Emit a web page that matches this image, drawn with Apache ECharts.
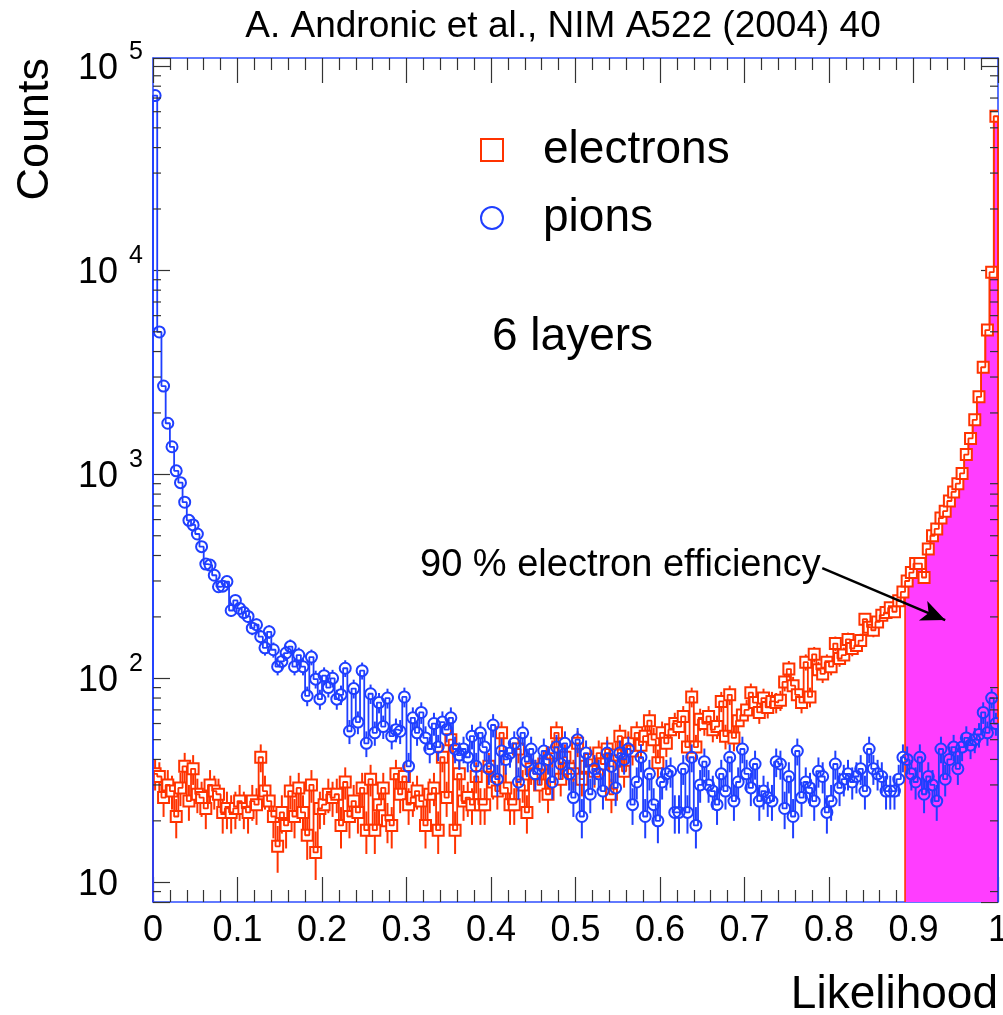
<!DOCTYPE html>
<html>
<head>
<meta charset="utf-8">
<script src="https://cdn.jsdelivr.net/npm/echarts@6/dist/echarts.min.js"></script>
<style>
html,body{margin:0;padding:0;background:#fff;}
#chart{width:1003px;height:1015px;}
</style>
</head>
<body>
<div id="chart"></div>
<script>
// ---------------- data ----------------
const nBins = 200;
const xLow = 0;
const xHigh = 1;
const fillFromBin = 178;   // 0.89 : 90 % electron efficiency cut

const electrons = [
  34,33,26,30,28,21,29,37,25,36, 27,26,23,30,28,27,22,23,22,23,
  25,23,22,25,24,41,28,25,21,15, 22,19,28,21,29,22,17,30,14,23,
  24,27,26,27,19,31,21,25,22,29, 18,32,18,24,29,20,19,34,27,33,
  24,26,28,25,19,27,29,18,41,26, 50,18,34,25,26,24,33,24,24,37,
  31,28,54,29,24,24,45,30,22,36, 34,30,38,27,43,54,32,41,36,34,
  48,32,37,40,35,43,38,45,27,42, 52,35,48,44,54,47,52,62,50,38.5,
  54,48,56,60,58,65,46,81,46,63, 60,65,56,58,77,52,83,51,62,66,
  70,85,76,68,80,72,77,76,78,96, 111,92,83,76,120,81,131,110,105,120,
  114,148,125,130,155,140,145,153,195,178, 172,189,204,210,222,212,240,265,300,330,
  365,365,312,430,500,540,610,660,740,820, 900,1010,1250,1500,1850,2400,3350,5100,9800,57000
];

const pions = [
  72000,4990,2710,1780,1365,1040,910,730,595,565, 510,442,363,359,320,281,283,298,215,241,
  220,210,201,176,183,160,141,169,138,114, 121,133,143,114,130,114,82,127,99,79,
  103,90,100,79,83,112,55,89,61,109, 48,84,54,76,58,80,52,56,55,81,
  37,64,54,68,51,45,60,46,61,56, 64,45,42,45,41,52,37,54,46,36,
  59,32,44,40,43,48,31,54,39,45, 34,36,44,40,31,46,38,48,34,26,
  50,21,43,27,36,34,28,43,37,29, 43,40,45,24,31,41,21,34,24,20,
  31,34,35,22,22,36,22,41,19,30, 39,30,28,24,34,28,41,25,31,45,
  34,29,38,25,28,26,25,39,38,23, 33,21,44,26,31,29,25,35,33,22,
  25,38,29,32,34,31,33,36,28,45, 36,34,33,28,28,28,32,41,40,34,
  31,41,27,33,30,25,45,32,40,46, 36,46,51,47,50,53,68,54,80,60
];

const xTickLabels = ['0','0.1','0.2','0.3','0.4','0.5','0.6','0.7','0.8','0.9','1'];
const yTickExponents = [1,2,3,4,5];
const yTickBase = '10';
const yMinorTicks = [9,20,30,40,50,60,70,80,90,200,300,400,500,600,700,800,900,
  2000,3000,4000,5000,6000,7000,8000,9000,20000,30000,40000,50000,60000,70000,80000,90000];

const yMin = 8;
const yMax = 110000;

// ---------------- style ----------------
const RED = '#ff3300';
const BLUE = '#1f3fff';
const MAGENTA = '#ff3dff';
const FRAME = '#2f4fff';
const TICK = '#333333';
const FONT = '"Liberation Sans", Arial, Helvetica, sans-serif';

const binW = (xHigh - xLow) / nBins;

function stepPoints(vals, from, to, base) {
  const pts = [[xLow + from * binW, base]];
  for (let i = from; i < to; i++) {
    pts.push([xLow + i * binW, vals[i]]);
    pts.push([xLow + (i + 1) * binW, vals[i]]);
  }
  pts.push([xLow + to * binW, base]);
  return pts;
}
function markerData(vals) {
  return vals.map((v, i) => [xLow + (i + 0.5) * binW, v, Math.sqrt(v)]);
}

function markerRenderer(kind, color) {
  return function (params, api) {
    const x = api.value(0), v = api.value(1), e = api.value(2);
    const c = api.coord([x, v]);
    const t = api.coord([x, v + e]);
    const b = api.coord([x, Math.max(v - e, yMin * 0.5)]);
    const r = 5.5;
    const children = [];
    if (t[1] < c[1] - r) {
      children.push({type: 'line', z2: 1, shape: {x1: c[0], y1: t[1], x2: c[0], y2: c[1] - r},
        style: {stroke: color, lineWidth: 2}});
    }
    if (b[1] > c[1] + r) {
      children.push({type: 'line', z2: 1, shape: {x1: c[0], y1: c[1] + r, x2: c[0], y2: b[1]},
        style: {stroke: color, lineWidth: 2}});
    }
    if (kind === 'rect') {
      children.push({type: 'rect', z2: 2, shape: {x: c[0] - r, y: c[1] - r, width: 2 * r, height: 2 * r},
        style: {fill: '#ffffff', stroke: color, lineWidth: 2}});
    } else {
      children.push({type: 'circle', z2: 2, shape: {cx: c[0], cy: c[1], r: r},
        style: {fill: 'none', stroke: color, lineWidth: 2}});
    }
    return {type: 'group', children: children};
  };
}

function yMinorRenderer(params, api) {
  const v = api.value(1);
  const l = api.coord([xLow, v]);
  const rr = api.coord([xHigh, v]);
  return {type: 'group', children: [
    {type: 'line', shape: {x1: l[0], y1: l[1], x2: l[0] + 8, y2: l[1]}, style: {stroke: TICK, lineWidth: 1.2}},
    {type: 'line', shape: {x1: rr[0] - 8, y1: rr[1], x2: rr[0], y2: rr[1]}, style: {stroke: TICK, lineWidth: 1.2}}
  ]};
}

const chart = echarts.init(document.getElementById('chart'), null, {renderer: 'canvas'});

const xAxisCommon = {
  type: 'value', min: xLow, max: xHigh, interval: 0.1,
  axisLine: {show: true, onZero: false, lineStyle: {color: FRAME, width: 1.6}},
  axisTick: {show: true, inside: true, length: 25, lineStyle: {color: TICK, width: 1.2}},
  minorTick: {show: true, splitNumber: 5, length: 12, lineStyle: {color: TICK, width: 1.2}},
  splitLine: {show: false}, minorSplitLine: {show: false}
};
const yAxisCommon = {
  type: 'log', logBase: 10, min: yMin, max: yMax,
  axisLine: {show: true, onZero: false, lineStyle: {color: FRAME, width: 1.6}},
  axisTick: {show: true, inside: true, length: 17, lineStyle: {color: TICK, width: 1.2}},
  splitLine: {show: false},
  axisLabel: {show: false}
};

const baseGraphics = [
  {type: 'text', x: 563, y: 27, style: {text: 'A. Andronic et al., NIM A522 (2004) 40',
    font: '37px ' + FONT, fill: '#000', align: 'center', verticalAlign: 'middle'}},
  {type: 'text', x: 36, y: 58, rotation: Math.PI / 2, style: {text: 'Counts',
    font: '45px ' + FONT, fill: '#000', align: 'right', verticalAlign: 'middle'}},
  {type: 'text', x: 998, y: 995, style: {text: 'Likelihood',
    font: '46px ' + FONT, fill: '#000', align: 'right', verticalAlign: 'middle'}},
  {type: 'rect', shape: {x: 481, y: 139, width: 22, height: 22}, style: {fill: 'none', stroke: RED, lineWidth: 2}},
  {type: 'text', x: 543, y: 150, style: {text: 'electrons', font: '46px ' + FONT, fill: '#000', align: 'left', verticalAlign: 'middle'}},
  {type: 'circle', shape: {cx: 492, cy: 218, r: 11}, style: {fill: 'none', stroke: BLUE, lineWidth: 2}},
  {type: 'text', x: 543, y: 218, style: {text: 'pions', font: '46px ' + FONT, fill: '#000', align: 'left', verticalAlign: 'middle'}},
  {type: 'text', x: 492, y: 337, style: {text: '6 layers', font: '46px ' + FONT, fill: '#000', align: 'left', verticalAlign: 'middle'}},
  {type: 'text', x: 420, y: 566, style: {text: '90 % electron efficiency', font: '38px ' + FONT, fill: '#000', align: 'left', verticalAlign: 'middle'}}
];

const option = {
  animation: false,
  backgroundColor: '#ffffff',
  grid: {left: 153, right: 5, top: 58, bottom: 113, containLabel: false, outerBoundsMode: 'none'},
  xAxis: [
    Object.assign({}, xAxisCommon, {
      position: 'bottom',
      axisLabel: {show: true, margin: 11, fontSize: 36, fontFamily: FONT, color: '#000',
        lineHeight: 36, showMinLabel: true, showMaxLabel: true,
        formatter: function (v) { const k = Math.round(v * 10); return xTickLabels[k] !== undefined ? xTickLabels[k] : ''; }}
    }),
    Object.assign({}, xAxisCommon, {position: 'top', axisLabel: {show: false}})
  ],
  yAxis: [
    Object.assign({}, yAxisCommon, {position: 'left'}),
    Object.assign({}, yAxisCommon, {position: 'right'})
  ],
  series: [
    { // magenta filled area above efficiency cut
      type: 'line', z: 1, silent: true,
      data: stepPoints(electrons, fillFromBin, nBins, yMin),
      symbol: 'none', lineStyle: {color: RED, width: 1.6},
      areaStyle: {color: MAGENTA, opacity: 1, origin: 'start'},
      markLine: {
        silent: true, z: 6, symbol: ['none', 'arrow'], symbolSize: [16, 24],
        label: {show: false},
        lineStyle: {color: '#000', width: 2.5, type: 'solid'},
        data: [[{coord: [0.792, 347]}, {coord: [0.9375, 193]}]]
      }
    },
    { // electron histogram outline
      type: 'line', z: 3, silent: true, data: stepPoints(electrons, 0, nBins, yMin),
      symbol: 'none', lineStyle: {color: RED, width: 1.8}
    },
    { // electron markers + errors
      type: 'custom', z: 3, silent: true, clip: true, data: markerData(electrons),
      encode: {x: 0, y: 1}, renderItem: markerRenderer('rect', RED)
    },
    { // pion histogram outline
      type: 'line', z: 4, silent: true, data: stepPoints(pions, 0, nBins, yMin),
      symbol: 'none', lineStyle: {color: BLUE, width: 1.8}
    },
    { // pion markers + errors
      type: 'custom', z: 4, silent: true, clip: true, data: markerData(pions),
      encode: {x: 0, y: 1}, renderItem: markerRenderer('circle', BLUE)
    },
    { // minor log ticks on left & right frame
      type: 'custom', z: 5, silent: true, clip: false, data: yMinorTicks.map(v => [xLow, v]),
      encode: {x: 0, y: 1}, renderItem: yMinorRenderer
    }
  ],
  graphic: baseGraphics
};
chart.setOption(option);

// y tick labels "10^n", placed at the axis positions of the tick values
const labelGraphics = [];
yTickExponents.forEach(function (e) {
  const py = chart.convertToPixel({yAxisIndex: 0}, Math.pow(10, e));
  const px = chart.convertToPixel({xAxisIndex: 0}, xLow);
  labelGraphics.push({type: 'text', x: px - 35, y: py + 2.5, style: {text: yTickBase,
    font: '36px ' + FONT, fill: '#000', align: 'right', verticalAlign: 'middle'}});
  if (e !== 1) {
    labelGraphics.push({type: 'text', x: px - 24, y: py - 14, style: {text: String(e),
      font: '25px ' + FONT, fill: '#000', align: 'left', verticalAlign: 'middle'}});
  }
});
chart.setOption({graphic: baseGraphics.concat(labelGraphics)});
</script>
</body>
</html>
